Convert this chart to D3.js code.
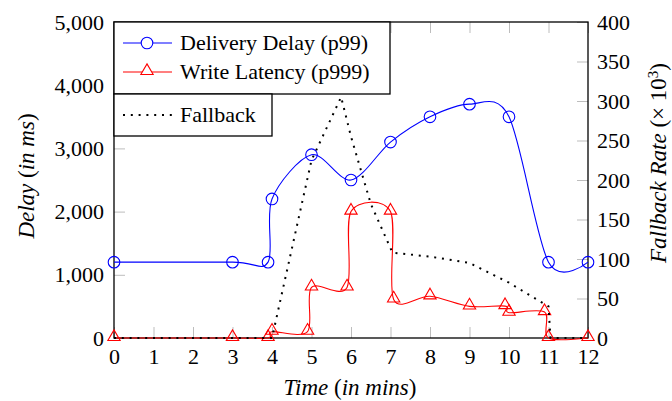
<!DOCTYPE html>
<html>
<head>
<meta charset="utf-8">
<script src="https://cdn.jsdelivr.net/npm/d3@7"></script>
<style>
  body { margin: 0; background: #fff; }
  svg text { font-family: "Liberation Serif", "Times New Roman", serif; font-size: 22px; fill: #000; }
  .title { font-size: 23px; }
</style>
</head>
<body>
<div id="chart"></div>
<script>
// data
var timeDelay = [0, 3, 3.9, 4, 5, 6, 7, 8, 9, 10, 11, 12]
var delayP99 = [1200, 1200, 1200, 2200, 2900, 2500, 3100, 3500, 3700, 3500, 1200, 1200]

var timeWrite = [0, 3, 3.9, 4, 4.9, 5, 5.9, 6, 7, 7.08, 8, 9, 9.9, 10, 10.9, 11, 12]
var writeP999 = [0, 0, 0, 100, 100, 800, 800, 2000, 2000, 610, 660, 500, 505, 400, 410, 0, 0]

var timeFallback = [0, 4, 5, 5.75, 6, 6.5, 7.05, 8, 9, 10, 11, 11.05, 12]
var fallbackRate = [0, 0, 225, 305, 255, 170, 108, 103, 95, 70, 40, 0, 0]

var xTicks = [0, 1, 2, 3, 4, 5, 6, 7, 8, 9, 10, 11, 12]
var leftTicks = [0, 1000, 2000, 3000, 4000, 5000]
var rightTicks = [0, 50, 100, 150, 200, 250, 300, 350, 400]

// set the dimensions and margins of the graph
var margin = {top: 22, right: 84, bottom: 63, left: 114},
  width = 672 - margin.left - margin.right,
  height = 401 - margin.top - margin.bottom;

var root = d3.select("#chart")
  .append("svg")
    .attr("width", 672)
    .attr("height", 401)

var svg = root.append("g")
    .attr("transform", "translate(" + margin.left + "," + margin.top + ")");

var x = d3.scaleLinear().domain([0, 12]).range([0, width])
var yLeft = d3.scaleLinear().domain([0, 5000]).range([height, 0])
var yRight = d3.scaleLinear().domain([0, 400]).range([height, 0])

// axes with grey inward ticks
function styleAxis(g) {
  g.select(".domain").remove()
  g.selectAll(".tick line").attr("stroke", "#bdbdbd").attr("stroke-width", 1)
  g.attr("font-size", null).attr("font-family", null)
}

svg.append("g")
  .attr("transform", "translate(0," + height + ")")
  .call(d3.axisBottom(x).tickValues(xTicks).tickSizeInner(-11).tickSizeOuter(0).tickPadding(10))
  .call(styleAxis)

svg.append("g")
  .call(d3.axisTop(x).tickValues(xTicks).tickFormat("").tickSizeInner(-11).tickSizeOuter(0))
  .call(styleAxis)

svg.append("g")
  .call(d3.axisLeft(yLeft).tickValues(leftTicks).tickFormat(d3.format(",")).tickSizeInner(-11).tickSizeOuter(0).tickPadding(10))
  .call(styleAxis)

svg.append("g")
  .attr("transform", "translate(" + width + ",0)")
  .call(d3.axisRight(yRight).tickValues(rightTicks).tickSizeInner(-11).tickSizeOuter(0).tickPadding(9))
  .call(styleAxis)

// frame
svg.append("rect")
  .attr("width", width)
  .attr("height", height)
  .attr("fill", "none")
  .attr("stroke", "#000")
  .attr("stroke-width", 1.3)

svg.append("clipPath").attr("id", "plotClip")
  .append("rect").attr("x", -8).attr("y", -8).attr("width", width + 16).attr("height", height + 16)

var plot = svg.append("g").attr("clip-path", "url(#plotClip)")

var smooth = d3.curveCardinal.tension(0.08)

var delayPts = timeDelay.map(function(t, i) { return [x(t), yLeft(delayP99[i])] })
var writePts = timeWrite.map(function(t, i) { return [x(t), yLeft(writeP999[i])] })
var fallPts = timeFallback.map(function(t, i) { return [x(t), yRight(fallbackRate[i])] })

// Write latency (red, triangles)
plot.append("path")
  .attr("d", d3.line().curve(smooth)(writePts))
  .attr("fill", "none")
  .attr("stroke", "#ff0000")
  .attr("stroke-width", 1.1)

var tri = d3.symbol().type(d3.symbolTriangle).size(66)
plot.selectAll(".tri")
  .data(writePts)
  .enter().append("path")
  .attr("transform", function(d) { return "translate(" + d[0] + "," + (d[1] - 1) + ")" })
  .attr("d", tri)
  .attr("fill", "none")
  .attr("stroke", "#ff0000")
  .attr("stroke-width", 1.1)

// Delivery delay (blue, circles)
plot.append("path")
  .attr("d", d3.line().curve(smooth)(delayPts))
  .attr("fill", "none")
  .attr("stroke", "#0000ff")
  .attr("stroke-width", 1.1)

plot.selectAll(".circ")
  .data(delayPts)
  .enter().append("circle")
  .attr("cx", function(d) { return d[0] })
  .attr("cy", function(d) { return d[1] })
  .attr("r", 5.8)
  .attr("fill", "none")
  .attr("stroke", "#0000ff")
  .attr("stroke-width", 1.1)

// Fallback (dotted, right axis)
plot.append("path")
  .attr("d", d3.line()(fallPts))
  .attr("fill", "none")
  .attr("stroke", "#000")
  .attr("stroke-width", 2)
  .attr("stroke-dasharray", "2,5.8")

// legends
var leg = svg.append("g")
leg.append("rect")
  .attr("width", 276).attr("height", 72)
  .attr("fill", "#fff").attr("stroke", "#000").attr("stroke-width", 1.3)
leg.append("rect")
  .attr("y", 72).attr("width", 158).attr("height", 42)
  .attr("fill", "#fff").attr("stroke", "#000").attr("stroke-width", 1.3)

leg.append("line").attr("x1", 9).attr("x2", 58).attr("y1", 21).attr("y2", 21)
  .attr("stroke", "#0000ff").attr("stroke-width", 1.1)
leg.append("circle").attr("cx", 33).attr("cy", 21).attr("r", 5.8)
  .attr("fill", "#fff").attr("stroke", "#0000ff").attr("stroke-width", 1.1)
leg.append("text").attr("x", 66).attr("y", 21).attr("dy", "0.33em").text("Delivery Delay (p99)")

leg.append("line").attr("x1", 9).attr("x2", 58).attr("y1", 50).attr("y2", 50)
  .attr("stroke", "#ff0000").attr("stroke-width", 1.1)
leg.append("path").attr("transform", "translate(33,49)").attr("d", tri)
  .attr("fill", "#fff").attr("stroke", "#ff0000").attr("stroke-width", 1.1)
leg.append("text").attr("x", 66).attr("y", 50).attr("dy", "0.33em").text("Write Latency (p999)")

leg.append("line").attr("x1", 9).attr("x2", 58).attr("y1", 93).attr("y2", 93)
  .attr("stroke", "#000").attr("stroke-width", 2).attr("stroke-dasharray", "2,5.8")
leg.append("text").attr("x", 66).attr("y", 93).attr("dy", "0.33em").text("Fallback")

// axis titles
var yl = root.append("text")
  .attr("class", "title")
  .attr("transform", "translate(34,176) rotate(-90)")
  .attr("text-anchor", "middle")
yl.append("tspan").attr("font-style", "italic").text("Delay")
yl.append("tspan").text(" (")
yl.append("tspan").attr("font-style", "italic").text("in ms")
yl.append("tspan").text(")")

var xl = root.append("text")
  .attr("class", "title")
  .attr("x", 350).attr("y", 395)
  .attr("text-anchor", "middle")
xl.append("tspan").attr("font-style", "italic").text("Time")
xl.append("tspan").text(" (")
xl.append("tspan").attr("font-style", "italic").text("in mins")
xl.append("tspan").text(")")

var yr = root.append("text")
  .attr("class", "title")
  .attr("transform", "translate(666,163) rotate(-90)")
  .attr("text-anchor", "middle")
yr.append("tspan").attr("font-style", "italic").text("Fallback Rate")
yr.append("tspan").text(" (\u00d7 10")
yr.append("tspan").attr("dy", -8).attr("font-size", "15px").text("3")
yr.append("tspan").attr("dy", 8).text(")")
</script>
</body>
</html>
